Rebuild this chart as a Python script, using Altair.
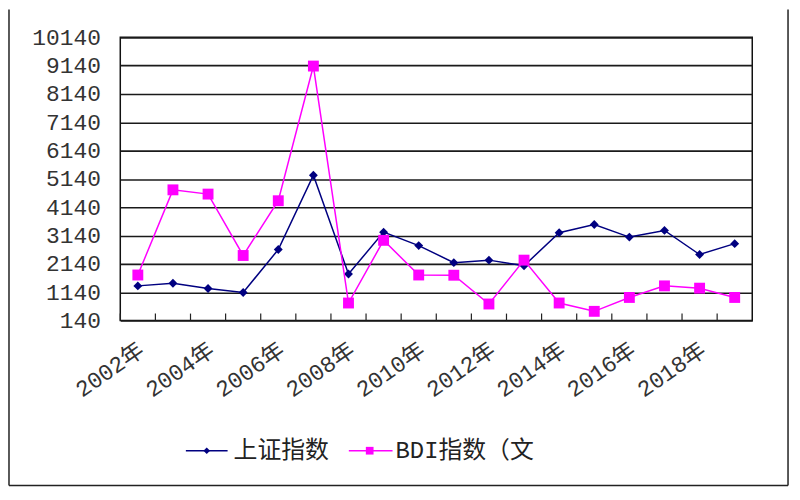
import altair as alt
import pandas as pd

years = ["2002年", "2003年", "2004年", "2005年", "2006年", "2007年", "2008年", "2009年", "2010年",
         "2011年", "2012年", "2013年", "2014年", "2015年", "2016年", "2017年", "2018年", "2019年"]
shanghai = [1364, 1458, 1270, 1130, 2647, 5270, 1783, 3262, 2787,
            2185, 2273, 2075, 3240, 3532, 3087, 3322, 2472, 2856]
bdi = [1748, 4755, 4605, 2437, 4370, 9126, 759, 2972, 1748,
       1740, 724, 2273, 759, 465, 955, 1364, 1283, 955]
y_ticks = [140, 1140, 2140, 3140, 4140, 5140, 6140, 7140, 8140, 9140, 10140]
series_names = ["上证指数", "BDI指数（文"]

df = pd.DataFrame({"year": years, "sh": shanghai, "bdi": bdi})

W, H = 636, 285
NAVY = "#000080"
PINK = "#FF00FF"
MONO = "Liberation Mono, Noto Sans CJK SC"

x_scale = alt.Scale(type="band", paddingInner=0, paddingOuter=0, domain=years)
x_enc = alt.X(
    "year:N", scale=x_scale,
    axis=alt.Axis(
        title=None, labelAngle=-35, labelAlign="right", labelBaseline="middle",
        labelFont=MONO, labelFontSize=23, labelColor="#333",
        labelExpr="toNumber(slice(datum.value,0,4)) % 2 == 0 ? datum.value : ''",
        labelOverlap=False, labelPadding=27, labelOffset=4,
        ticks=False, domain=False, grid=False,
    ),
)
y_scale = alt.Scale(domain=[140, 10140], nice=False, zero=False)
y_axis = alt.Axis(
    values=y_ticks, tickCount=11, format="d", title=None, grid=True, gridColor="#1a1a1a",
    gridWidth=1.6, domain=False, ticks=False, labelFont=MONO, labelFontSize=23,
    labelColor="#333", labelPadding=20, labelOverlap=False,
)


def yenc(field):
    return alt.Y(field + ":Q", scale=y_scale, axis=y_axis)


base = alt.Chart(df).encode(x=x_enc)

sh_line = base.mark_line(color=NAVY, strokeWidth=1.5).encode(y=yenc("sh"))
sh_pts = base.mark_point(shape="diamond", filled=True, size=80, color=NAVY, opacity=1).encode(
    y=yenc("sh"))
bdi_line = base.mark_line(color=PINK, strokeWidth=1.5).encode(y=yenc("bdi"))
bdi_pts = base.mark_point(shape="square", filled=True, size=120, color=PINK, opacity=1).encode(
    y=yenc("bdi"))
ticks = alt.Chart(df).mark_rule(color="#222", strokeWidth=1.2).encode(
    x=alt.X("year:N", scale=x_scale, bandPosition=0),
    y=alt.value(H - 7), y2=alt.value(H))

one = pd.DataFrame({"a": [0]})
LY = 416
leg = [
    alt.Chart(one).mark_rule(color=NAVY, strokeWidth=1.5).encode(
        x=alt.value(66), x2=alt.value(108), y=alt.value(LY)),
    alt.Chart(one).mark_point(shape="diamond", filled=True, size=45, color=NAVY, opacity=1).encode(
        x=alt.value(87), y=alt.value(LY)),
    alt.Chart(one).mark_text(text=series_names[0], align="left", baseline="middle",
                             font="Noto Sans CJK SC", fontSize=24, color="#222").encode(
        x=alt.value(114), y=alt.value(LY)),
    alt.Chart(one).mark_rule(color=PINK, strokeWidth=1.5).encode(
        x=alt.value(230), x2=alt.value(274), y=alt.value(LY)),
    alt.Chart(one).mark_point(shape="square", filled=True, size=60, color=PINK, opacity=1).encode(
        x=alt.value(251), y=alt.value(LY)),
    alt.Chart(one).mark_text(text=series_names[1], align="left", baseline="middle",
                             font=MONO, fontSize=24, color="#222").encode(
        x=alt.value(277), y=alt.value(LY)),
]

frame = [
    alt.Chart(one).mark_rule(color="#222", strokeWidth=1.5).encode(
        x=alt.value(-112), y=alt.value(-28), y2=alt.value(H + 166)),
    alt.Chart(one).mark_rule(color="#222", strokeWidth=1.5).encode(
        x=alt.value(W + 36), y=alt.value(-28), y2=alt.value(H + 166)),
    alt.Chart(one).mark_rule(color="#222", strokeWidth=1.5).encode(
        x=alt.value(-112), x2=alt.value(W + 36), y=alt.value(H + 166)),
]

chart = alt.layer(sh_line, sh_pts, bdi_line, bdi_pts, ticks, *leg, *frame).properties(
    width=W, height=H,
    autosize=alt.AutoSizeParams(type="none"),
    padding={"left": 113, "top": 28, "right": 40, "bottom": 168},
    background="white",
).configure_view(stroke="#111", strokeWidth=1.5)

chart.save("out.html", embed_options={"renderer": "svg", "actions": False})
